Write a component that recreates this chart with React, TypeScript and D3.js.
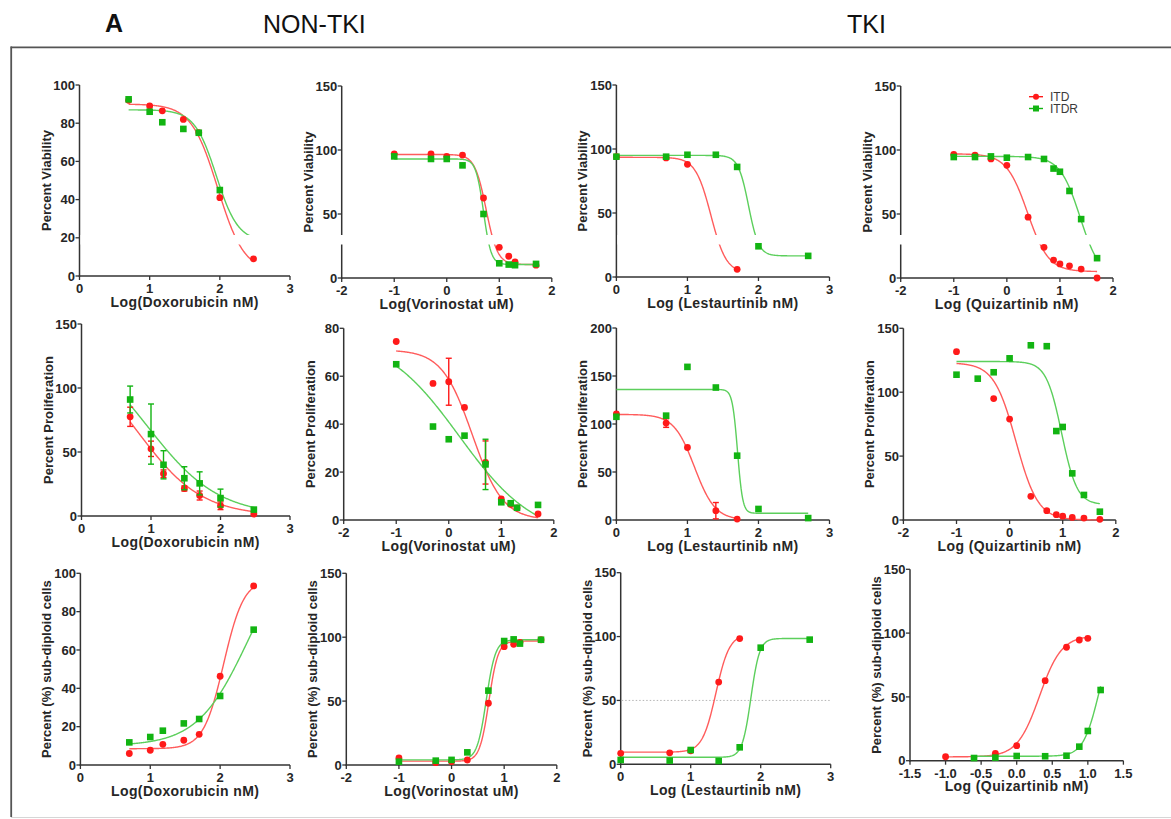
import React from 'react';
import * as d3 from 'd3';

const W = 1171;
const H = 819;
const FONT = '"Liberation Sans", Arial, sans-serif';
const RED = '#ff1a1a';
const GREEN = '#12b412';
const RED_FIT = '#ff5c5c';
const GREEN_FIT = '#5ccf5c';
const INK = '#262626';

// log doses
const doxX = [0.7, 1.0, 1.18, 1.48, 1.7, 2.0, 2.48];
const vorX = [-1, -0.3, 0, 0.3, 0.7, 1.0, 1.18, 1.3, 1.7];
const lesX = [0, 0.7, 1.0, 1.4, 1.7, 2.0, 2.7];
const quiX = [-1, -0.6, -0.3, 0, 0.4, 0.7, 0.88, 1.0, 1.18, 1.4, 1.7];
const quiSubX = [-1, -0.6, -0.3, 0, 0.4, 0.7, 0.88, 1.0, 1.18];

// row 1: percent viability
const viaDoxItd = [92, 89, 86.5, 82, 75, 41, 9];
const viaDoxItdr = [92.5, 86, 80.5, 77, 75, 45, null];
const viaVorItd = [97, 97, 95, 96, 62.5, 24, 17, 12.5, 10];
const viaVorItdr = [95, 93, 93, 88, 50, 11.5, 10.5, 10, 11];
const viaLesItd = [94, 93, 88, null, 6, null, null];
const viaLesItdr = [94, 94, 95.5, 95.5, 86, 24, 16.5];
const viaQuiItd = [96.5, 96, 93, 88, 47.5, 24, 14, 11, 9.5, 7, 0];
const viaQuiItdr = [94.5, 94.5, 95, 94, 94.5, 93, 85.5, 83, 68, 46, 15.5];

// row 2: percent proliferation (mean, sem)
const proDoxItd = [77.5, 52.5, 33, 21.5, 16, 8, 1.5];
const proDoxItdErr = [7.5, 6, 3, 2, 3.5, 3, 0.5];
const proDoxItdr = [91, 64, 40, 29.5, 25.5, 14, 5];
const proDoxItdrErr = [10.5, 23.5, 11, 9, 9, 7, 1];
const proVorItd = [74.5, 57, 57.7, 47, 24, 8.8, 6.5, 5, 2.5];
const proVorItdErr = [0, 0, 9.8, 0, 9, 0, 0, 0, 0];
const proVorItdr = [65, 39, 33.7, 35.2, 23.2, 7.4, 7, 5.1, 6.3];
const proVorItdrErr = [0, 0, 0, 0, 10.5, 0, 0, 0, 0];
const proLesItd = [110.5, 101, 75.5, 9.7, 1, null, null];
const proLesItdErr = [0, 4.5, 0, 8.5, 0, 0, 0];
const proLesItdr = [107.5, 108.7, 159.5, 138, 67, 11.5, 2];
const proQuiItd = [131.7, null, 95, 79, 18.5, 7.3, 4.2, 3, 2, 1.5, 0.5];
const proQuiItdr = [113.7, 110.6, 115.6, 126.5, 136.7, 136, 69.6, 72.8, 36.5, 19.6, 6.5];

// row 3: percent sub-diploid cells
const subDoxItd = [6, 7.7, 10.8, 12.9, 16, 46.3, 93.4];
const subDoxItdr = [11.8, 14.6, 17.9, 21.7, 24, 36, 70.6];
const subVorItd = [5.5, 1.8, 2.6, 3.9, 48.3, 92.6, 94.4, 96, 98];
const subVorItdr = [2.6, 3.4, 4, 9.9, 58.2, 97, 98.3, 95, 98];
const subLesItd = [8.6, 9, 10.6, 64.4, 98.4, null, null];
const subLesItdr = [3.4, 2.9, 11.2, 2.6, 13.3, 91.3, 97.6];
const subQuiItd = [3.1, null, 5.8, 11.8, 62.7, 88.9, 94.6, 95.9, null];
const subQuiItdr = [null, 2.1, 2.4, 3.7, 3.5, 3.9, 11, 23.3, 55.4];

// 4PL fits: top, bottom, logEC50, hill, from, to
const fitViaDox = [[90, 2, 1.97, -2.3, 0.7, 2.48], [87, 18, 1.95, -2.8, 0.7, 2.5]];
const fitViaVor = [[96.5, 10.5, 0.75, -4, -1, 1.7], [93, 10.5, 0.7, -6, -1, 1.7]];
const fitViaLes = [[93.5, 3, 1.33, -4, 0, 1.7], [95, 16.5, 1.86, -6, 0, 2.7]];
const fitViaQui = [[97, 5, 0.39, -2.2, -1, 1.7], [95, 0, 1.38, -2.3, -1, 1.7]];
const fitProDox = [[130, 0, 0.82, -0.95, 0.7, 2.48], [140, 0, 0.95, -0.85, 0.7, 2.48]];
const fitProVor = [[71, 0, 0.45, -1.5, -1, 1.7], [78, -8, 0.2, -0.6, -1, 1.7]];
const fitProLes = [[110, 0, 1.1, -3, 0, 1.7], [136, 7, 1.705, -12, 0, 2.7]];
const fitProQui = [[123, 0, 0.12, -2.1, -1, 1.7], [124, 12, 0.98, -3, -1, 1.7]];
const fitSubDox = [[97, 8.5, 2.05, 3, 0.7, 2.48], [120, 10, 2.4, 1.2, 0.7, 2.48]];
const fitSubVor = [[97, 3, 0.71, 5, -1, 1.7], [98, 4, 0.66, 5, -1, 1.7]];
const fitSubLes = [[102, 9.5, 1.36, 4.5, 0, 1.7], [98.5, 5.5, 1.86, 7, 0, 2.7]];
const fitSubQui = [[98, 3, 0.32, 2.8, -1, 1.0], [100, 3.5, 1.15, 4, -0.6, 1.18]];

const ticks03 = [0, 1, 2, 3];
const ticksM2 = [-2, -1, 0, 1, 2];
const ticksHalf = [-1.5, -1.0, -0.5, 0.0, 0.5, 1.0, 1.5];
const y100 = [0, 20, 40, 60, 80, 100];
const y150 = [0, 50, 100, 150];
const y80 = [0, 20, 40, 60, 80];
const y200 = [0, 50, 100, 150, 200];

const panels = [
  { x0: 79.5, x1: 290, yT: 85, yB: 276, xDom: [0, 3], yDom: [0, 100], xt: ticks03, yt: y100, xTitle: 'Log(Doxorubicin nM)', yTitle: 'Percent Viability', xs: doxX, a: viaDoxItd, b: viaDoxItdr, fit: fitViaDox, band: true },
  { x0: 341.7, x1: 551.8, yT: 86, yB: 278, xDom: [-2, 2], yDom: [0, 150], xt: ticksM2, yt: y150, xTitle: 'Log(Vorinostat uM)', yTitle: 'Percent Viability', xs: vorX, a: viaVorItd, b: viaVorItdr, fit: fitViaVor, band: true, brk: true },
  { x0: 616.4, x1: 829.5, yT: 85, yB: 277, xDom: [0, 3], yDom: [0, 150], xt: ticks03, yt: y150, xTitle: 'Log (Lestaurtinib nM)', yTitle: 'Percent Viability', xs: lesX, a: viaLesItd, b: viaLesItdr, fit: fitViaLes, band: true },
  { x0: 900.7, x1: 1113, yT: 86, yB: 278, xDom: [-2, 2], yDom: [0, 150], xt: ticksM2, yt: y150, xTitle: 'Log (Quizartinib nM)', yTitle: 'Percent Viability', xs: quiX, a: viaQuiItd, b: viaQuiItdr, fit: fitViaQui, band: true, brk: true, legend: true },

  { x0: 81.5, x1: 290, yT: 324, yB: 516, xDom: [0, 3], yDom: [0, 150], xt: ticks03, yt: y150, xTitle: 'Log(Doxorubicin nM)', yTitle: 'Percent Proliferation', xs: doxX, a: proDoxItd, ae: proDoxItdErr, b: proDoxItdr, be: proDoxItdrErr, fit: fitProDox },
  { x0: 343.7, x1: 553.8, yT: 328.3, yB: 520, xDom: [-2, 2], yDom: [0, 80], xt: ticksM2, yt: y80, xTitle: 'Log(Vorinostat uM)', yTitle: 'Percent Proliferation', xs: vorX, a: proVorItd, ae: proVorItdErr, b: proVorItdr, be: proVorItdrErr, fit: fitProVor },
  { x0: 616.4, x1: 829.5, yT: 328, yB: 520, xDom: [0, 3], yDom: [0, 200], xt: ticks03, yt: y200, xTitle: 'Log (Lestaurtinib nM)', yTitle: 'Percent Proliferation', xs: lesX, a: proLesItd, ae: proLesItdErr, b: proLesItdr, fit: fitProLes },
  { x0: 903.4, x1: 1115.8, yT: 328.3, yB: 520, xDom: [-2, 2], yDom: [0, 150], xt: ticksM2, yt: y150, xTitle: 'Log (Quizartinib nM)', yTitle: 'Percent Proliferation', xs: quiX, a: proQuiItd, b: proQuiItdr, fit: fitProQui },

  { x0: 80.4, x1: 290, yT: 573.3, yB: 765, xDom: [0, 3], yDom: [0, 100], xt: ticks03, yt: y100, xTitle: 'Log(Doxorubicin nM)', yTitle: 'Percent (%) sub-diploid cells', xs: doxX, a: subDoxItd, b: subDoxItdr, fit: fitSubDox },
  { x0: 346.3, x1: 556.8, yT: 573.3, yB: 765, xDom: [-2, 2], yDom: [0, 150], xt: ticksM2, yt: y150, xTitle: 'Log(Vorinostat uM)', yTitle: 'Percent (%) sub-diploid cells', xs: vorX, a: subVorItd, b: subVorItdr, fit: fitSubVor },
  { x0: 620.7, x1: 830.7, yT: 572.7, yB: 764.3, xDom: [0, 3], yDom: [0, 150], xt: ticks03, yt: y150, xTitle: 'Log (Lestaurtinib nM)', yTitle: 'Percent (%) sub-diploid cells', xs: lesX, a: subLesItd, b: subLesItdr, fit: fitSubLes, ref50: true },
  { x0: 910, x1: 1123.4, yT: 569.3, yB: 760.7, xDom: [-1.5, 1.5], yDom: [0, 150], xt: ticksHalf, yt: y150, xTitle: 'Log (Quizartinib nM)', yTitle: 'Percent (%) sub-diploid cells', xs: quiSubX, a: subQuiItd, b: subQuiItdr, fit: fitSubQui, dec: 1 },
];

const fmt = (v: number, dec = 0) => (v < 0 ? '-' : '') + Math.abs(v).toFixed(dec);

function Panel({ p }: { p: any }) {
  const x = d3.scaleLinear().domain(p.xDom).range([p.x0, p.x1]);
  const y = d3.scaleLinear().domain(p.yDom).range([p.yB, p.yT]);
  const line = d3.line<[number, number]>();
  const fitPath = (f: number[]) => {
    const [top, bot, c, h, from, to] = f;
    const pts: [number, number][] = d3.range(0, 241).map((i) => {
      const v = from + ((to - from) * i) / 240;
      return [x(v), y(bot + (top - bot) / (1 + Math.pow(10, (c - v) * h)))];
    });
    return line(pts) || '';
  };
  const ax = '#333';
  const bandY = 235;
  return (
    <g>
      {/* axes */}
      <line x1={p.x0} x2={p.x0} y1={p.yT} y2={p.yB + 0.75} stroke={ax} strokeWidth={1.5} />
      <line x1={p.x0 - 0.75} x2={p.x1} y1={p.yB} y2={p.yB} stroke={ax} strokeWidth={1.5} />
      {p.yt.map((t: number) => (
        <g key={'y' + t}>
          <line x1={p.x0 - 4} x2={p.x0} y1={y(t)} y2={y(t)} stroke={ax} strokeWidth={1.3} />
          <text x={p.x0 - 4.5} y={y(t)} dy="0.36em" textAnchor="end" fontSize={13} fontWeight="bold" fill={INK}>{t}</text>
        </g>
      ))}
      {p.xt.map((t: number) => (
        <g key={'x' + t}>
          <line x1={x(t)} x2={x(t)} y1={p.yB} y2={p.yB + 4} stroke={ax} strokeWidth={1.3} />
          <text x={x(t)} y={p.yB + 17} textAnchor="middle" fontSize={13} fontWeight="bold" fill={INK}>{fmt(t, p.dec || 0)}</text>
        </g>
      ))}
      <text x={(p.x0 + p.x1) / 2} y={p.yB + 30.5} textAnchor="middle" fontSize={14} fontWeight="bold" letterSpacing={0.4} fill={INK}>{p.xTitle}</text>
      <text transform={`translate(${p.x0 - 29},${(p.yT + p.yB) / 2}) rotate(-90)`} textAnchor="middle" fontSize={13} fontWeight="bold" fill={INK}>{p.yTitle}</text>

      {p.ref50 && (
        <line x1={p.x0 + 1} x2={x(3)} y1={y(50)} y2={y(50)} stroke="#b5b5b5" strokeWidth={1} strokeDasharray="1.5,2" />
      )}

      {/* fitted curves */}
      <path d={fitPath(p.fit[0])} fill="none" stroke={RED_FIT} strokeWidth={1.4} />
      <path d={fitPath(p.fit[1])} fill="none" stroke={GREEN_FIT} strokeWidth={1.4} />

      {p.band && (
        <rect x={p.brk ? p.x0 - 3 : p.x0 + 1} y={bandY} width={p.x1 - p.x0 + 8} height={9.5} fill="#fff" />
      )}

      {/* ITD */}
      {p.xs.map((v: number, i: number) => {
        const m = p.a[i];
        if (m == null) return null;
        const e = p.ae ? p.ae[i] : 0;
        return (
          <g key={'a' + i}>
            {e > 0 && (
              <g stroke={RED} strokeWidth={1.4}>
                <line x1={x(v)} x2={x(v)} y1={y(m - e)} y2={y(m + e)} />
                <line x1={x(v) - 3} x2={x(v) + 3} y1={y(m - e)} y2={y(m - e)} />
                <line x1={x(v) - 3} x2={x(v) + 3} y1={y(m + e)} y2={y(m + e)} />
              </g>
            )}
            <circle cx={x(v)} cy={y(m)} r={3.4} fill={RED} />
          </g>
        );
      })}
      {/* ITDR */}
      {p.xs.map((v: number, i: number) => {
        const m = p.b[i];
        if (m == null) return null;
        const e = p.be ? p.be[i] : 0;
        return (
          <g key={'b' + i}>
            {e > 0 && (
              <g stroke={GREEN} strokeWidth={1.4}>
                <line x1={x(v)} x2={x(v)} y1={y(m - e)} y2={y(m + e)} />
                <line x1={x(v) - 3} x2={x(v) + 3} y1={y(m - e)} y2={y(m - e)} />
                <line x1={x(v) - 3} x2={x(v) + 3} y1={y(m + e)} y2={y(m + e)} />
              </g>
            )}
            <rect x={x(v) - 3.3} y={y(m) - 3.3} width={6.6} height={6.6} fill={GREEN} />
          </g>
        );
      })}

      {p.legend && (
        <g fontSize={12} fill="#3a3a3a">
          <line x1={1029} x2={1043} y1={96.7} y2={96.7} stroke={RED} strokeWidth={1.4} />
          <circle cx={1036} cy={96.7} r={3} fill={RED} />
          <text x={1050} y={96.7} dy="0.36em">ITD</text>
          <line x1={1029} x2={1043} y1={108.5} y2={108.5} stroke={GREEN} strokeWidth={1.4} />
          <rect x={1033} y={105.5} width={6} height={6} fill={GREEN} />
          <text x={1050} y={108.5} dy="0.36em">ITDR</text>
        </g>
      )}
    </g>
  );
}

export default function App() {
  return (
    <svg width={W} height={H} style={{ position: 'absolute', left: 0, top: 0, background: '#fff' }} fontFamily={FONT}>
      <rect x={0} y={0} width={W} height={H} fill="#fff" />
      <text x={105} y={32} fontSize={25} fontWeight="bold" fill="#111">A</text>
      <text x={263} y={33} fontSize={25} fill="#111">NON-TKI</text>
      <text x={847} y={33} fontSize={25} fill="#111">TKI</text>
      <line x1={10.7} x2={W} y1={47.3} y2={47.3} stroke="#555" strokeWidth={1.8} />
      <line x1={11.2} x2={11.2} y1={46.5} y2={817} stroke="#555" strokeWidth={1.8} />
      <line x1={11} x2={W} y1={817.5} y2={817.5} stroke="#d6d6d6" strokeWidth={1} />
      {panels.map((p, i) => (
        <Panel key={i} p={p} />
      ))}
    </svg>
  );
}
